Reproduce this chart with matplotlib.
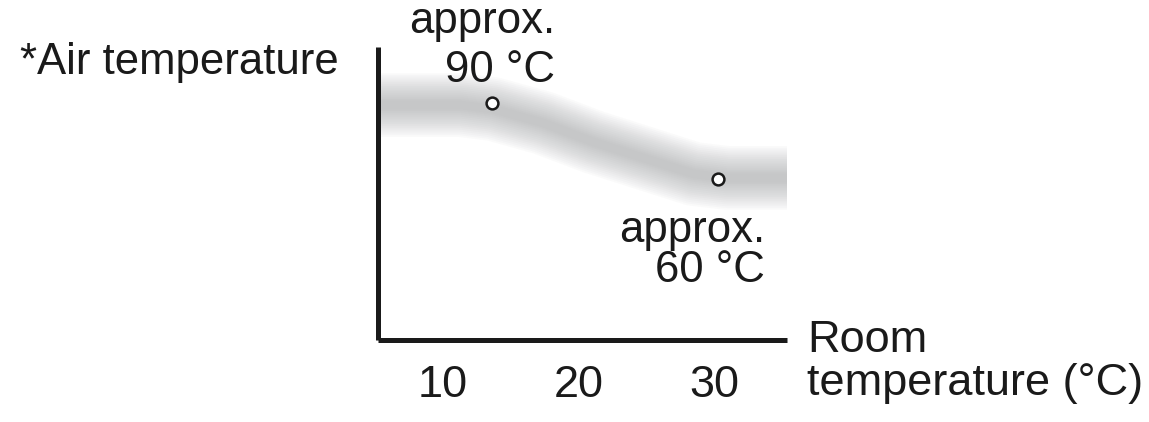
#!/usr/bin/env python3
"""Air temperature vs room temperature sketch."""

import matplotlib

matplotlib.use("Agg")
import matplotlib.pyplot as plt
import numpy as np

plt.rcParams["font.family"] = ["Liberation Sans", "DejaVu Sans"]

# data
room_temp = [13.6, 30.3]
air_temp = [90, 60]
band_x = [4.5, 11.3, 13.7, 17.4, 21.1, 24.8, 28.5, 31.0, 36.0]
band_y = [89.2, 89.2, 87.6, 82.1, 74.6, 68.3, 62.0, 60.4, 60.4]
tick_values = [10, 20, 30]
tick_labels = ["10", "20", "30"]

W, H = 1149, 422
fig = plt.figure(figsize=(W / 100, H / 100), dpi=100)
ax = fig.add_axes([378 / W, 1 - 340 / H, (787 - 378) / W, (340 - 47) / H])
ax.set_xlim(5.2, 35.4)
ax.set_ylim(-3.56, 112.1)

# soft grey band, stacked translucent strokes
for w in np.linspace(46, 6, 16):
    ax.plot(band_x, band_y, color="#9a9c9e", alpha=0.045, linewidth=w,
            solid_capstyle="butt", solid_joinstyle="round", zorder=1)

ax.plot(room_temp, air_temp, "o", markersize=8.5, markerfacecolor="white",
        markeredgecolor="#1a1a1a", markeredgewidth=1.8, zorder=3)

for side in ("top", "right"):
    ax.spines[side].set_visible(False)
for side in ("left", "bottom"):
    ax.spines[side].set_linewidth(3.6)
    ax.spines[side].set_color("#1a1a1a")
    ax.spines[side].set_capstyle("butt")

ax.set_yticks([])
ax.set_xticks(tick_values, tick_labels)
ax.tick_params(axis="x", length=0, pad=18, labelsize=32.5, labelcolor="#1a1a1a")

txt = dict(color="#1a1a1a", va="baseline")
fig.text(20 / W, 1 - 74 / H, "*Air temperature", fontsize=31.5, ha="left", **txt)
fig.text(555 / W, 1 - 33 / H, "approx.", fontsize=31.5, ha="right", **txt)
fig.text(555 / W, 1 - 82 / H, "90 °C", fontsize=31.5, ha="right", **txt)
fig.text(765 / W, 1 - 242 / H, "approx.", fontsize=31.5, ha="right", **txt)
fig.text(765 / W, 1 - 282 / H, "60 °C", fontsize=31.5, ha="right", **txt)
fig.text(807 / W, 1 - 352 / H, "Room", fontsize=32.5, ha="left", **txt)
fig.text(807 / W, 1 - 395 / H, "temperature (°C)", fontsize=32.5, ha="left", **txt)

fig.savefig("out.png", dpi=100)
